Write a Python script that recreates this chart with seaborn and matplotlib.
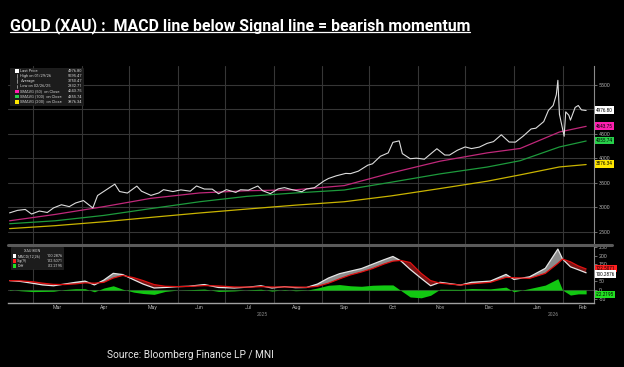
import pandas as pd
import matplotlib.pyplot as plt
import matplotlib.transforms as mtransforms
import seaborn as sns
from matplotlib.lines import Line2D
from matplotlib.patches import Rectangle

# ---- data ----
price_dates = ["2025-02-14", "2025-02-19", "2025-02-24", "2025-02-28", "2025-03-05", "2025-03-10",
               "2025-03-14", "2025-03-19", "2025-03-24", "2025-03-28", "2025-04-02", "2025-04-08",
               "2025-04-11", "2025-04-16", "2025-04-22", "2025-04-25", "2025-04-30", "2025-05-06",
               "2025-05-09", "2025-05-15", "2025-05-20", "2025-05-23", "2025-05-29", "2025-06-03",
               "2025-06-09", "2025-06-13", "2025-06-18", "2025-06-23", "2025-06-27", "2025-07-02",
               "2025-07-08", "2025-07-11", "2025-07-16", "2025-07-22", "2025-07-25", "2025-07-30",
               "2025-08-04", "2025-08-08", "2025-08-13", "2025-08-19", "2025-08-22", "2025-08-27",
               "2025-09-02", "2025-09-05", "2025-09-10", "2025-09-16", "2025-09-19", "2025-09-24",
               "2025-09-30", "2025-10-03", "2025-10-08", "2025-10-13", "2025-10-16", "2025-10-20",
               "2025-10-22", "2025-10-27", "2025-10-31", "2025-11-05", "2025-11-10", "2025-11-13",
               "2025-11-18", "2025-11-21", "2025-11-26", "2025-12-01", "2025-12-05", "2025-12-10",
               "2025-12-15", "2025-12-19", "2025-12-24", "2025-12-29", "2026-01-02", "2026-01-07",
               "2026-01-12", "2026-01-15", "2026-01-20", "2026-01-23", "2026-01-26", "2026-01-28",
               "2026-01-29", "2026-01-30", "2026-02-02", "2026-02-03", "2026-02-05", "2026-02-06",
               "2026-02-09", "2026-02-11", "2026-02-13", "2026-02-16"]
price_close = [2882, 2933, 2952, 2858, 2920, 2890,
               2984, 3048, 3010, 3084, 3134, 2982,
               3237, 3343, 3470, 3319, 3288, 3430,
               3325, 3240, 3290, 3357, 3318, 3353,
               3326, 3433, 3370, 3368, 3274, 3357,
               3301, 3355, 3347, 3432, 3337, 3275,
               3374, 3398, 3356, 3315, 3371, 3396,
               3533, 3586, 3641, 3690, 3685, 3736,
               3858, 3886, 4040, 4110, 4326, 4356,
               4095, 3990, 4002, 3980, 4115, 4195,
               4066, 4065, 4163, 4232, 4198, 4228,
               4305, 4340, 4480, 4332, 4330, 4455,
               4600, 4615, 4750, 4980, 5080, 5300,
               5595, 4900, 4450, 4950, 4880, 4780,
               5040, 5080, 4990, 4977]

sma_dates = ["2025-02-14", "2025-03-15", "2025-04-15", "2025-05-15", "2025-06-15", "2025-07-15",
             "2025-08-15", "2025-09-15", "2025-10-15", "2025-11-15", "2025-12-15", "2026-01-05",
             "2026-01-30", "2026-02-16"]
sma50 = [2720, 2850, 3010, 3180, 3290, 3335, 3355, 3440, 3700, 3940, 4110, 4200, 4537, 4653]
sma100 = [2660, 2720, 2830, 2970, 3110, 3220, 3290, 3350, 3510, 3680, 3820, 3950, 4231, 4353]
sma200 = [2560, 2620, 2700, 2790, 2880, 2960, 3040, 3110, 3230, 3380, 3530, 3660, 3822, 3871]

macd_dates = ["2025-02-14", "2025-02-21", "2025-03-01", "2025-03-07", "2025-03-14", "2025-03-21",
              "2025-03-28", "2025-04-03", "2025-04-09", "2025-04-15", "2025-04-21", "2025-04-27",
              "2025-05-04", "2025-05-10", "2025-05-17", "2025-05-24", "2025-06-01", "2025-06-08",
              "2025-06-18", "2025-06-27", "2025-07-07", "2025-07-17", "2025-07-24", "2025-07-31",
              "2025-08-08", "2025-08-15", "2025-08-22", "2025-08-29", "2025-09-05", "2025-09-12",
              "2025-09-19", "2025-09-26", "2025-10-03", "2025-10-10", "2025-10-16", "2025-10-21",
              "2025-10-27", "2025-11-03", "2025-11-09", "2025-11-15", "2025-11-28", "2025-12-05",
              "2025-12-17", "2025-12-27", "2026-01-01", "2026-01-11", "2026-01-21", "2026-01-29",
              "2026-02-01", "2026-02-06", "2026-02-11", "2026-02-16"]
macd_line = [55, 50, 39, 30, 25, 35, 45, 52, 30, 58, 97, 90,
             60, 35, 12, 15, 20, 22, 32, 15, 12, 18, 25, 12,
             20, 14, 15, 35, 70, 95, 110, 125, 150, 175, 195, 170,
             120, 68, 25, 45, 29, 45, 52, 91, 62, 77, 126, 238,
             180, 135, 118, 100.3]
signal_line = [55, 54, 48, 40, 33, 32, 36, 42, 40, 45, 70, 85,
               72, 55, 32, 22, 20, 21, 26, 24, 18, 17, 20, 18,
               18, 18, 16, 22, 40, 65, 88, 105, 125, 150, 168, 172,
               160, 97, 55, 40, 29, 36, 45, 74, 72, 68, 97, 155,
               180, 164, 140, 122.5]
diff_hist = [3, -4, -9, -8, -7, 3, 8, 8, -10, 12, 25, 5,
             -12, -20, -25, -8, 0, 2, 6, -8, -5, 2, 5, -6,
             3, -4, -1, 12, 28, 32, 25, 22, 28, 30, 30, -2,
             -40, -45, -30, 5, 4, 9, 7, 17, -10, 9, 29, 66,
             0, -29, -22, -22.2]

month_labels = ["Mar", "Apr", "May", "Jun", "Jul", "Aug", "Sep", "Oct", "Nov", "Dec", "Jan", "Feb"]
month_label_dates = ["2025-03-16", "2025-04-15", "2025-05-16", "2025-06-15", "2025-07-16", "2025-08-16",
                     "2025-09-15", "2025-10-16", "2025-11-15", "2025-12-16", "2026-01-16", "2026-02-14"]
month_starts = ["2025-03-01", "2025-04-01", "2025-05-01", "2025-06-01", "2025-07-01", "2025-08-01",
                "2025-09-01", "2025-10-01", "2025-11-01", "2025-12-01", "2026-01-01", "2026-02-01"]
price_ticks = [2500, 3000, 3500, 4000, 4500, 5000, 5500]
macd_ticks = [-50, 0, 50, 100, 150, 200, 250]

price_df = pd.DataFrame({"date": pd.to_datetime(price_dates), "close": price_close})
sma_df = pd.DataFrame({"date": pd.to_datetime(sma_dates), "sma50": sma50,
                       "sma100": sma100, "sma200": sma200})
macd_df = pd.DataFrame({"date": pd.to_datetime(macd_dates), "macd": macd_line,
                        "signal": signal_line, "diff": diff_hist})

sns.set_theme(style="dark")
plt.rcParams.update({
    "figure.facecolor": "black",
    "axes.facecolor": "black",
    "axes.edgecolor": "#8a8a8a",
    "grid.color": "#363636",
    "grid.linewidth": 0.8,
    "xtick.color": "#9a9a9a",
    "ytick.color": "#9a9a9a",
})
plt.rcParams["font.family"] = ["Roboto", "DejaVu Sans"]

W, H = 624, 367
fig = plt.figure(figsize=(W / 100, H / 100), dpi=100)


def fx(px):
    return px / W


def fy(py):
    return 1 - py / H


ax = fig.add_axes([fx(8), fy(244), fx(594 - 8), (244 - 66) / H])
ax2 = fig.add_axes([fx(8), fy(303), fx(594 - 8), (303 - 247) / H], sharex=ax)

xmin, xmax = pd.Timestamp("2025-02-13"), pd.Timestamp("2026-02-21")

# ---- price panel ----
sns.lineplot(data=sma_df, x="date", y="sma200", ax=ax, color="#c9b400", lw=0.9)
sns.lineplot(data=sma_df, x="date", y="sma100", ax=ax, color="#1d9a3c", lw=0.9)
sns.lineplot(data=sma_df, x="date", y="sma50", ax=ax, color="#c0287a", lw=0.9)
sns.lineplot(data=price_df, x="date", y="close", ax=ax, color="#dcdcdc", lw=0.8)

ax.set_xlim(xmin, xmax)
ax.set_ylim(2245, 5888)
ax.yaxis.tick_right()
ax.set_yticks(price_ticks)
# the 5000 label sits under the last-price tag, as in the original
ax.set_yticklabels(["" if v == 5000 else str(v) for v in price_ticks], fontsize=3.8, color="#b0b0b0")
ax.tick_params(axis="y", length=2, width=0.5, pad=1.5)
ax.grid(True, axis="both")
ax.set_xlabel("")
ax.set_ylabel("")
for s in ["top", "left", "bottom"]:
    ax.spines[s].set_visible(False)
ax.spines["right"].set_linewidth(0.8)

# ---- MACD panel ----
d = macd_df["date"]
ax2.fill_between(d, macd_df["macd"], macd_df["signal"], where=macd_df["macd"] >= macd_df["signal"],
                 interpolate=True, color="#8c8c8c", lw=0)
ax2.fill_between(d, macd_df["macd"], macd_df["signal"], where=macd_df["macd"] < macd_df["signal"],
                 interpolate=True, color="#7a1414", lw=0)
ax2.fill_between(d, 0, macd_df["diff"], color="#12c812", lw=0)
sns.lineplot(data=macd_df, x="date", y="macd", ax=ax2, color="#e6e6e6", lw=0.9)
sns.lineplot(data=macd_df, x="date", y="signal", ax=ax2, color="#e01010", lw=0.9)

ax2.set_xlim(xmin, xmax)
ax2.set_ylim(-75, 250)
ax2.yaxis.tick_right()
ax2.set_yticks(macd_ticks)
ax2.set_yticklabels(["" if v == 100 else str(v) for v in macd_ticks], fontsize=3.8, color="#b0b0b0")
ax2.tick_params(axis="y", length=2, width=0.5, pad=1.5)
ax2.set_xticks(pd.to_datetime(month_starts))
ax2.set_xticklabels([])
ax2.tick_params(axis="x", length=0)
ax2.set_xticks(pd.to_datetime(month_label_dates), minor=True)
ax2.set_xticklabels(month_labels, minor=True, fontsize=3.8, color="#b0b0b0")
ax2.tick_params(axis="x", which="minor", length=0, pad=1.5)
ax2.grid(True, axis="x")
ax2.axhline(0, color="#363636", lw=0.8, zorder=0)
ax2.set_xlabel("")
ax2.set_ylabel("")
for s in ["top", "left"]:
    ax2.spines[s].set_visible(False)
ax2.spines["bottom"].set_color("#a0a0a0")
ax2.spines["bottom"].set_linewidth(1.0)
ax2.spines["right"].set_linewidth(0.8)

# the shared x axis would also label the price panel: switch that off
ax.tick_params(axis="x", which="both", length=0, labelbottom=False)

blend2 = mtransforms.blended_transform_factory(ax2.transData, fig.transFigure)
ax2.text(pd.Timestamp("2025-07-25"), fy(314), "2025", fontsize=3.6, color="#8a8a8a",
         ha="center", va="center", transform=blend2, clip_on=False)
ax2.text(pd.Timestamp("2026-01-26"), fy(314), "2026", fontsize=3.6, color="#8a8a8a",
         ha="center", va="center", transform=blend2, clip_on=False)

# separator band between the two panels
fig.add_artist(Line2D([fx(8), fx(612)], [fy(245), fy(245)], color="#5a5a5a", lw=2.2,
                      transform=fig.transFigure))


# ---- right-hand value tags (placed at their pixel rows) ----
def tag(py, text, face):
    fig.text(fx(596), fy(py), text, fontsize=3.3, color="black", ha="left", va="center",
             bbox=dict(boxstyle="square,pad=0.25", fc=face, ec="none"), zorder=8)


tag(110, "4976.80", "#ffffff")
tag(126, "4643.75", "#ff1fb0")
tag(140.5, "4355.74", "#27d04a")
tag(164, "3876.34", "#ffe600")
tag(268.5, "122.5071", "#ff2020")
tag(274, "100.2876", "#ffffff")
tag(294.5, "-22.2195", "#22e022")

# ---- price legend box ----
fig.add_artist(Rectangle((fx(10), fy(105)), fx(73), (105 - 68) / H, transform=fig.transFigure,
                         fc="#1c1c1c", ec="#2a2a2a", lw=0.4, zorder=5))
legend_rows = [("Last Price", "4976.80", "#ffffff"),
               ("High on 01/29/26", "5595.47", None),
               ("Average", "3750.47", None),
               ("Low on 02/26/25", "2832.71", None),
               ("SMAVG (50)  on Close", "4643.75", "#ff1fb0"),
               ("SMAVG (100)  on Close", "4355.74", "#27d04a"),
               ("SMAVG (200)  on Close", "3876.34", "#ffe600")]
for i, (lab, val, col) in enumerate(legend_rows):
    yy = 71 + i * 5.1
    if col is not None:
        fig.add_artist(Rectangle((fx(15.5), fy(yy + 1.9)), fx(3.8), 3.8 / H, transform=fig.transFigure,
                                 fc=col, ec="none", zorder=6))
    else:
        fig.add_artist(Line2D([fx(17.4), fx(17.4)], [fy(yy + 1.8), fy(yy - 1.8)], color="#bbbbbb",
                              lw=0.5, transform=fig.transFigure, zorder=6))
    fig.text(fx(20.5), fy(yy), lab, fontsize=2.9, color="#d0d0d0", va="center", ha="left", zorder=7)
    fig.text(fx(82), fy(yy), val, fontsize=2.9, color="#d0d0d0", va="center", ha="right", zorder=7)

# ---- MACD legend box ----
fig.add_artist(Rectangle((fx(11), fy(269)), fx(52), (269 - 247) / H, transform=fig.transFigure,
                         fc="#1c1c1c", ec="#2a2a2a", lw=0.4, zorder=5))
fig.text(fx(32), fy(250.7), "XAU BGN", fontsize=2.8, color="#d0d0d0", va="center", ha="center", zorder=7)
macd_rows = [("MACD(12,26)", "100.2876", "#ffffff"),
             ("Sig(9)", "122.5071", "#ff2020"),
             ("Diff", "-22.2195", "#22e022")]
for i, (lab, val, col) in enumerate(macd_rows):
    yy = 255.7 + i * 5
    fig.add_artist(Rectangle((fx(12.5), fy(yy + 1.9)), fx(3.8), 3.8 / H, transform=fig.transFigure,
                             fc=col, ec="none", zorder=6))
    fig.text(fx(17.3), fy(yy), lab, fontsize=2.8, color="#d0d0d0", va="center", ha="left", zorder=7)
    fig.text(fx(62.8), fy(yy), val, fontsize=2.8, color="#d0d0d0", va="center", ha="right", zorder=7)

# ---- title (underlined) and source ----
title = fig.text(fx(10), fy(30), "GOLD (XAU) :  MACD line below Signal line = bearish momentum",
                 fontsize=11.45, fontweight="bold", color="white", ha="left", va="baseline")
fig.text(fx(107), fy(354.5), "Source: Bloomberg Finance LP / MNI", fontsize=7.3, color="#e8e8e8",
         ha="left", va="center")

fig.canvas.draw()
bb = title.get_window_extent(fig.canvas.get_renderer()).transformed(fig.transFigure.inverted())
fig.add_artist(Line2D([bb.x0, bb.x1], [fy(32.3), fy(32.3)], color="white", lw=0.9,
                      transform=fig.transFigure))

fig.savefig("out.png", dpi=100, facecolor="black")
